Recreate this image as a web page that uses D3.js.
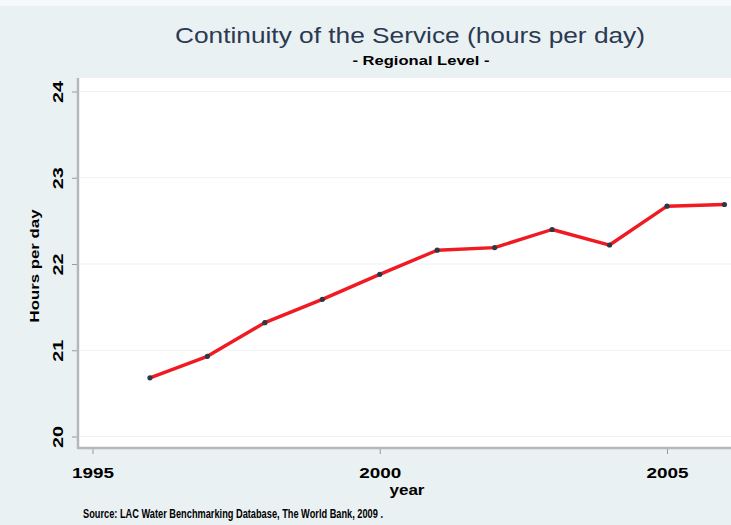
<!DOCTYPE html>
<html>
<head>
<meta charset="utf-8">
<script src="https://cdn.jsdelivr.net/npm/d3@7"></script>
<style>
  html, body { margin: 0; padding: 0; background: #eaf1f3; }
  svg { display: block; }
</style>
</head>
<body>
<script>
// ---- data ----
const years = [1996, 1997, 1998, 1999, 2000, 2001, 2002, 2003, 2004, 2005, 2006];
const hours = [20.68, 20.93, 21.32, 21.59, 21.88, 22.16, 22.19, 22.40, 22.22, 22.67, 22.69];
const xTicks = [1995, 2000, 2005];
const yTicks = [20, 21, 22, 23, 24];
const titleText = "Continuity of the Service (hours per day)";
const subtitleText = "- Regional Level -";
const yTitle = "Hours per day";
const xTitle = "year";
const noteText = "Source: LAC Water Benchmarking Database, The World Bank, 2009 .";

const W = 731, H = 525;
const plot = { left: 78, right: 736, top: 78, bottom: 448 };

const svg = d3.select("body").append("svg").attr("width", W).attr("height", H);

// backgrounds
svg.append("rect").attr("width", W).attr("height", H).attr("fill", "#eaf1f3");
svg.append("rect").attr("width", W).attr("height", 6).attr("fill", "#f6f9fa");
svg.append("rect")
  .attr("x", plot.left).attr("y", plot.top)
  .attr("width", plot.right - plot.left).attr("height", plot.bottom - plot.top)
  .attr("fill", "#ffffff");

// scales
const x = d3.scaleLinear().domain([1995, 2005]).range([92.5, 667]);
const y = d3.scaleLinear().domain([20, 24]).range([436.5, 91.5]);

// gridlines
svg.append("g").selectAll("line").data(yTicks).join("line")
  .attr("x1", plot.left + 2).attr("x2", plot.right)
  .attr("y1", d => y(d)).attr("y2", d => y(d))
  .attr("stroke", "#eef2f3").attr("stroke-width", 1.2);

const tickFont = "'Liberation Sans', Arial, sans-serif";

// x axis
const xAxis = svg.append("g")
  .attr("transform", `translate(0,${plot.bottom})`)
  .call(d3.axisBottom(x).tickValues(xTicks).tickSize(6).tickSizeOuter(0).tickFormat(d3.format("d")));
xAxis.select(".domain").remove();
xAxis.selectAll(".tick line").attr("stroke", "#9a9a9a").attr("stroke-width", 1);
xAxis.selectAll(".tick text")
  .attr("y", 30).attr("dy", 0)
  .attr("fill", "#000")
  .style("font-family", tickFont).style("font-weight", "bold").style("font-size", "15px")
  .attr("textLength", 42).attr("lengthAdjust", "spacingAndGlyphs");

// y axis
const yAxis = svg.append("g")
  .attr("transform", `translate(${plot.left},0)`)
  .call(d3.axisLeft(y).tickValues(yTicks).tickSize(6).tickSizeOuter(0).tickFormat(d3.format("d")));
yAxis.select(".domain").remove();
yAxis.selectAll(".tick line").attr("stroke", "#9a9a9a").attr("stroke-width", 1);
yAxis.selectAll(".tick text")
  .attr("x", 0).attr("y", 0).attr("dy", 0)
  .attr("text-anchor", "middle")
  .attr("transform", "translate(-15,0) rotate(-90)")
  .attr("fill", "#000")
  .style("font-family", tickFont).style("font-weight", "bold").style("font-size", "15px")
  .attr("textLength", 22).attr("lengthAdjust", "spacingAndGlyphs");

// axis lines
svg.append("line")
  .attr("x1", plot.left).attr("x2", plot.right)
  .attr("y1", plot.bottom).attr("y2", plot.bottom)
  .attr("stroke", "#b4b8ba").attr("stroke-width", 2.5);
svg.append("line")
  .attr("x1", plot.left).attr("x2", plot.left)
  .attr("y1", plot.top).attr("y2", plot.bottom + 1)
  .attr("stroke", "#b4b8ba").attr("stroke-width", 2.5);

// series
const pts = years.map((yr, i) => [yr, hours[i]]);
svg.append("path")
  .datum(pts)
  .attr("fill", "none")
  .attr("stroke", "#f01a22")
  .attr("stroke-width", 3.4)
  .attr("stroke-linejoin", "round")
  .attr("d", d3.line().x(d => x(d[0])).y(d => y(d[1])));
svg.append("g").selectAll("circle").data(pts).join("circle")
  .attr("cx", d => x(d[0])).attr("cy", d => y(d[1])).attr("r", 2.6)
  .attr("fill", "#2e3742");

// titles
svg.append("text")
  .attr("x", 410).attr("y", 43).attr("text-anchor", "middle")
  .attr("fill", "#2a3a52")
  .style("font-family", "Arial, 'Liberation Sans', sans-serif").style("font-size", "22px")
  .attr("textLength", 470).attr("lengthAdjust", "spacingAndGlyphs")
  .text(titleText);
svg.append("text")
  .attr("x", 421).attr("y", 65).attr("text-anchor", "middle")
  .attr("fill", "#000")
  .style("font-family", tickFont).style("font-weight", "bold").style("font-size", "13px")
  .attr("textLength", 137).attr("lengthAdjust", "spacingAndGlyphs")
  .text(subtitleText);

// axis titles
svg.append("text")
  .attr("transform", "translate(38.5,266) rotate(-90)")
  .attr("text-anchor", "middle").attr("fill", "#000")
  .style("font-family", tickFont).style("font-weight", "bold").style("font-size", "12px")
  .attr("textLength", 113).attr("lengthAdjust", "spacingAndGlyphs")
  .text(yTitle);
svg.append("text")
  .attr("x", 407).attr("y", 495).attr("text-anchor", "middle").attr("fill", "#000")
  .style("font-family", tickFont).style("font-weight", "bold").style("font-size", "14px")
  .attr("textLength", 35).attr("lengthAdjust", "spacingAndGlyphs")
  .text(xTitle);

// note
svg.append("text")
  .attr("x", 83).attr("y", 518).attr("fill", "#000")
  .style("font-family", tickFont).style("font-weight", "bold").style("font-size", "12px")
  .attr("textLength", 300).attr("lengthAdjust", "spacingAndGlyphs")
  .text(noteText);
</script>
</body>
</html>
